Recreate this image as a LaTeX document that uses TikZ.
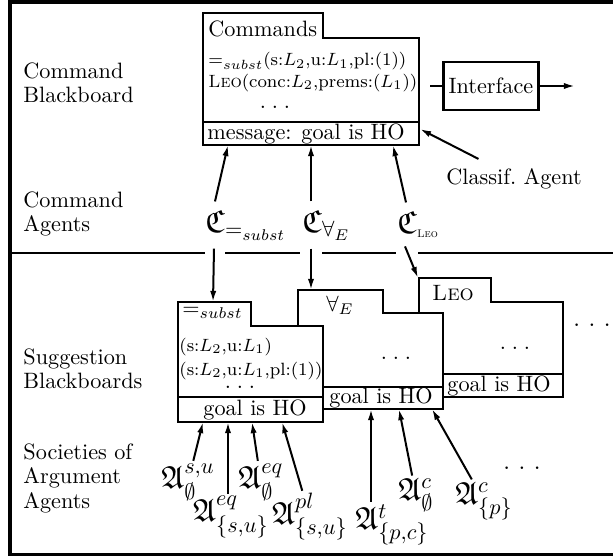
\documentclass[tikz,border=0pt]{standalone}
\usepackage{amsmath,amssymb}
\usetikzlibrary{arrows.meta,calc}
\newcommand{\spdots}[1][2.6pt]{.\hspace{#1}.\hspace{#1}.}
\tikzset{
  board/.style={line width=1.3pt,fill=white},
  boardline/.style={line width=1.3pt},
  arr/.style={line width=0.9pt,-{Latex[length=5pt,width=2.8pt]}},
  cagent/.style={anchor=base west,inner xsep=0pt,inner ysep=3.6pt,font=\Large},
  aagent/.style={font=\Large,inner sep=1pt},
  side/.style={anchor=north west,inner sep=0pt,align=left,font=\fontsize{10}{11}\selectfont},
  entry/.style={anchor=base west,inner sep=0pt,font=\footnotesize},
}
\begin{document}
\begin{tikzpicture}[x=0.45pt,y=-0.45pt]
\useasboundingbox (0,0) rectangle (613,558);
\draw[line width=1.5pt] (10,2) rectangle (618,554.5);
\draw[boardline] (10,253) -- (205,253) (225,253) -- (300,253)
                 (322,253) -- (396,253) (418,253) -- (618,253);

% left column
\node[side] (cmdbb) at (23,62) {Command\\Blackboard};
\node[side] (cmdag) at (23,191) {Command\\Agents};
\node[side] (sugbb) at (23,348) {Suggestion\\Blackboards};
\node[side] (argag) at (23,443) {Societies of\\Argument\\Agents};

% command blackboard
\draw[board] (203,145) -- (203,13) -- (323,13) -- (323,38) -- (419,38) -- (419,145) -- cycle;
\draw[boardline] (203,122) -- (419,122);
\node[anchor=base west,inner sep=0pt] (cmdtitle) at (208,36) {Commands};
\node[entry] (cmdone) at (208,66) {$=_{subst}$(s:$L_2$,u:$L_1$,pl:(1))};
\node[entry] (cmdtwo) at (208,87) {\textsc{Leo}(conc:$L_2$,prems:($L_1$))};
\node (cmddots) at (275,107) {\spdots};
\node (cmdmsg) at (306,133.5) {message: goal is HO};
\coordinate (cmdA) at (228,145);
\coordinate (cmdB) at (311,145);
\coordinate (cmdC) at (393,145);
\coordinate (cmdside) at (420,129);

\node[draw,line width=1.3pt,minimum width=43pt,minimum height=21.6pt,inner sep=0pt] (iface) at (491,86) {Interface};
\coordinate (ifin) at (430,86);
\coordinate (ifout) at (575,86);
\draw[line width=1pt] (ifin) -- (iface);
\draw[arr] (iface) -- (ifout);

\node (classif) at (514,179) {Classif.\ Agent};
\draw[arr] ($(classif.north west)+(40,-2)$) -- (cmdside);

% suggestion blackboards
\draw[board] (419,397) -- (419,278) -- (491,278) -- (491,302) -- (563,302) -- (563,397) -- cycle;
\draw[boardline] (419,374) -- (563,374);
\node (leotab) at (453,293) {\textsc{Leo}};
\node (leodots) at (515,348) {\spdots};
\node (leogoal) at (499,385.5) {goal is HO};

\draw[board] (298,409) -- (298,290) -- (383,290) -- (383,313) -- (443,313) -- (443,409) -- cycle;
\draw[boardline] (298,387) -- (443,387);
\node (alltab) at (340,305) {$\forall_E$};
\node (alldots) at (396,358) {\spdots};
\node (allgoal) at (381,398) {goal is HO};

\draw[board] (178,422) -- (178,302) -- (251,302) -- (251,326) -- (323,326) -- (323,422) -- cycle;
\draw[boardline] (178,397) -- (323,397);
\node[anchor=base west,inner sep=0pt] (subtab) at (182,315) {$=_{subst}$};
\node[entry] (subone) at (179,351) {(s:$L_2$,u:$L_1$)};
\node[entry] (subtwo) at (179,375) {(s:$L_2$,u:$L_1$,pl:(1))};
\node[inner sep=1pt] (subdots) at (240,387) {\spdots};
\node (subgoal) at (255,409.5) {goal is HO};

\node[font=\large] (moredots) at (592,325) {\spdots[3.6pt]};

\coordinate (subA) at (213,302);
\coordinate (subB) at (311,290);
\coordinate (subC) at (418,278);

% command agents
\node[cagent] (csubst) at (205,232) {$\mathfrak{C}_{=_{subst}}$};
\node[cagent] (cforall) at (302,232) {$\mathfrak{C}_{\forall_E}$};
\node[cagent] (cleo) at (397,233) {$\mathfrak{C}_{\mbox{\tiny\textsc{Leo}}}$};
\draw[arr] ($(csubst.north west)+(10,0)$) -- (cmdA);
\draw[arr] ($(csubst.south west)+(9,0)$) -- (subA);
\draw[arr] ($(cforall.north west)+(9,0)$) -- (cmdB);
\draw[arr] ($(cforall.south west)+(9,0)$) -- (subB);
\draw[arr] ($(cleo.north west)+(9,0)$) -- (cmdC);
\draw[arr] ($(cleo.south west)+(8,0)$) -- (subC);

% argument agents
\coordinate (bsA) at (203,422);
\coordinate (bsB) at (228,422);
\coordinate (bsC) at (252,422);
\coordinate (bsD) at (282,422);
\coordinate (bfA) at (371,409);
\coordinate (bfB) at (399,409);
\coordinate (bfC) at (432,409);
\node[aagent] (asu) at (188,482) {$\mathfrak{A}^{s,u}_{\emptyset}$};
\node[aagent] (aeqsu) at (231,517) {$\mathfrak{A}^{eq}_{\{s,u\}}$};
\node[aagent] (aeq) at (261,482) {$\mathfrak{A}^{eq}_{\emptyset}$};
\node[aagent] (aplsu) at (310,517) {$\mathfrak{A}^{pl}_{\{s,u\}}$};
\node[aagent] (atpc) at (392,525) {$\mathfrak{A}^{t}_{\{p,c\}}$};
\node[aagent] (ac) at (416,495) {$\mathfrak{A}^{c}_{\emptyset}$};
\node[aagent] (acp) at (484,501) {$\mathfrak{A}^{c}_{\{p\}}$};
\node[font=\large] (adots) at (522,468) {\spdots[3.6pt]};
\draw[arr] (asu) -- (bsA);
\draw[arr] (aeqsu.north -| bsB) -- (bsB);
\draw[arr] (aeq) -- (bsC);
\draw[arr] (aplsu) -- (bsD);
\draw[arr] (atpc.north -| bfA) -- (bfA);
\draw[arr] (ac) -- (bfB);
\draw[arr] (acp) -- (bfC);
\end{tikzpicture}
\end{document}
